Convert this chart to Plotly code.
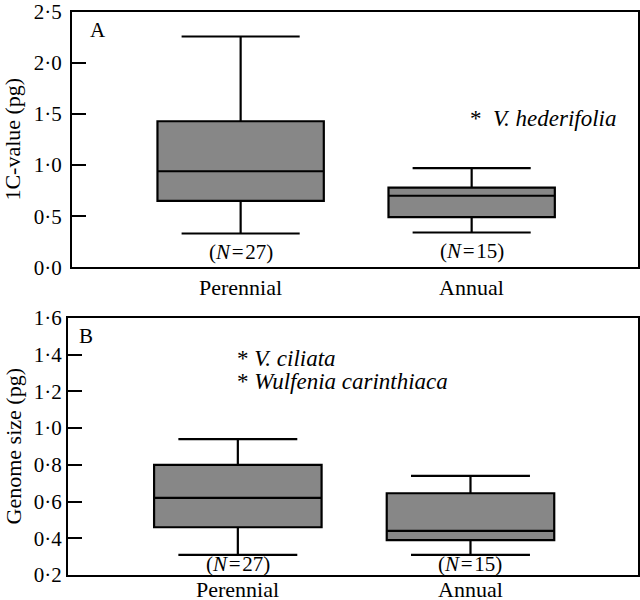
"""
Box plots of nuclear DNA content for perennial vs annual species (panels A and B).
"""

import plotly.graph_objects as go
from plotly.subplots import make_subplots

categories = ['Perennial', 'Annual']
sample_sizes = [27, 15]

# Panel A: 1C-value (pg)
a_lower = [0.33, 0.34]
a_q1 = [0.65, 0.49]
a_median = [0.94, 0.70]
a_q3 = [1.43, 0.78]
a_upper = [2.26, 0.97]
a_outlier_x = [1]
a_outlier_y = [1.46]
a_outlier_names = ['V. hederifolia']

# Panel B: genome size (pg)
b_lower = [0.31, 0.31]
b_q1 = [0.46, 0.39]
b_median = [0.62, 0.44]
b_q3 = [0.80, 0.645]
b_upper = [0.94, 0.74]
b_outlier_x = [0, 0]
b_outlier_y = [1.38, 1.255]
b_outlier_names = ['V. ciliata', 'Wulfenia carinthiaca']

a_ticks = [0.0, 0.5, 1.0, 1.5, 2.0, 2.5]
b_ticks = [0.2, 0.4, 0.6, 0.8, 1.0, 1.2, 1.4, 1.6]

FONT = 'Liberation Serif, Times New Roman, serif'
FILL = '#878787'


def dot_label(v):
    # journal style: decimal point written as a middle dot
    return f'{v:.1f}'.replace('.', '\u00b7')


def txt(size):
    return dict(family=FONT, size=size, color='black')


fig = make_subplots(rows=2, cols=1, vertical_spacing=0.09)

panels = [
    (1, a_lower, a_q1, a_median, a_q3, a_upper),
    (2, b_lower, b_q1, b_median, b_q3, b_upper),
]
for row, lo, q1, med, q3, hi in panels:
    for i in range(len(categories)):
        fig.add_trace(
            go.Box(
                x=[i],
                lowerfence=[lo[i]],
                q1=[q1[i]],
                median=[med[i]],
                q3=[q3[i]],
                upperfence=[hi[i]],
                width=0.72,
                whiskerwidth=0.71,
                fillcolor=FILL,
                line=dict(color='black', width=2.2),
                boxpoints=False,
                showlegend=False,
                hoverinfo='skip',
            ),
            row=row, col=1
        )

annotations = []

# N labels under the lower whiskers, category names under each panel
for xref, yref, lo, n_shift, cat_shift in [('x', 'y', a_lower, -18, -20),
                                           ('x2', 'y2', b_lower, -9, -14)]:
    for i, n in enumerate(sample_sizes):
        annotations.append(dict(
            x=i, y=lo[i], xref=xref, yref=yref,
            text=f'(<i>N</i>\u200a=\u200a{n})', showarrow=False,
            yanchor='middle', yshift=n_shift, font=txt(21), borderpad=0,
        ))
        annotations.append(dict(
            x=i, y=0, xref=xref, yref=yref + ' domain',
            text=categories[i], showarrow=False,
            yanchor='middle', yshift=cat_shift, font=txt(22), borderpad=0,
        ))

# outliers drawn as asterisks with species names
for xref, yref, xs, ys, names, gap, shift in [
    ('x', 'y', a_outlier_x, a_outlier_y, a_outlier_names, '\u2002', -4),
    ('x2', 'y2', b_outlier_x, b_outlier_y, b_outlier_names, ' ', -3),
]:
    for x, y, name in zip(xs, ys, names):
        annotations.append(dict(
            x=x, y=y, xref=xref, yref=yref,
            text=f'*{gap}<i>{name}</i>', showarrow=False,
            xanchor='left', xshift=shift, font=txt(23),
        ))

# panel letters
annotations.append(dict(x=0.028, y=0.985, xref='x domain', yref='y domain',
                        text='A', showarrow=False, xanchor='left', yanchor='top',
                        font=txt(21)))
annotations.append(dict(x=0.016, y=0.985, xref='x2 domain', yref='y2 domain',
                        text='B', showarrow=False, xanchor='left', yanchor='top',
                        font=txt(21)))

# y axis titles
annotations.append(dict(x=0, y=0.5, xref='paper', yref='y domain',
                        text='1C-value (pg)', showarrow=False, textangle=-90,
                        xanchor='center', xshift=-55, font=txt(22), borderpad=0))
annotations.append(dict(x=0, y=0.5, xref='paper', yref='y2 domain',
                        text='Genome size (pg)', showarrow=False, textangle=-90,
                        xanchor='center', xshift=-55, font=txt(22), borderpad=0))

axis_style = dict(showline=True, mirror=True, linecolor='black', linewidth=2,
                  showgrid=False, zeroline=False, automargin=False,
                  tickfont=txt(21))

fig.update_xaxes(range=[-0.73, 1.72], showticklabels=False, ticks='', **axis_style)
fig.update_xaxes(domain=[0.007, 1], row=1, col=1)
fig.update_xaxes(domain=[0.0, 1], row=2, col=1)

fig.update_yaxes(ticks='inside', ticklen=14, tickwidth=2, tickcolor='black',
                 ticklabeloverflow='allow', **axis_style)
fig.update_yaxes(range=[0, 2.5], tickvals=a_ticks,
                 ticktext=[dot_label(v) for v in a_ticks],
                 ticklabelstandoff=4,
                 domain=[0.5467, 1], row=1, col=1)
fig.update_yaxes(range=[0.2, 1.6], tickvals=b_ticks,
                 ticktext=[dot_label(v) for v in b_ticks],
                 domain=[0, 0.4568], row=2, col=1)

fig.update_layout(
    width=640, height=600,
    margin=dict(l=68, r=2, t=12, b=25),
    plot_bgcolor='white', paper_bgcolor='white',
    annotations=annotations,
    font=dict(family=FONT, color='black'),
)

# drop the browser's default body margin so the figure sits at the page corner
fig.write_html("out.html", config={'displayModeBar': False},
               post_script="document.body.style.margin = '0';")
